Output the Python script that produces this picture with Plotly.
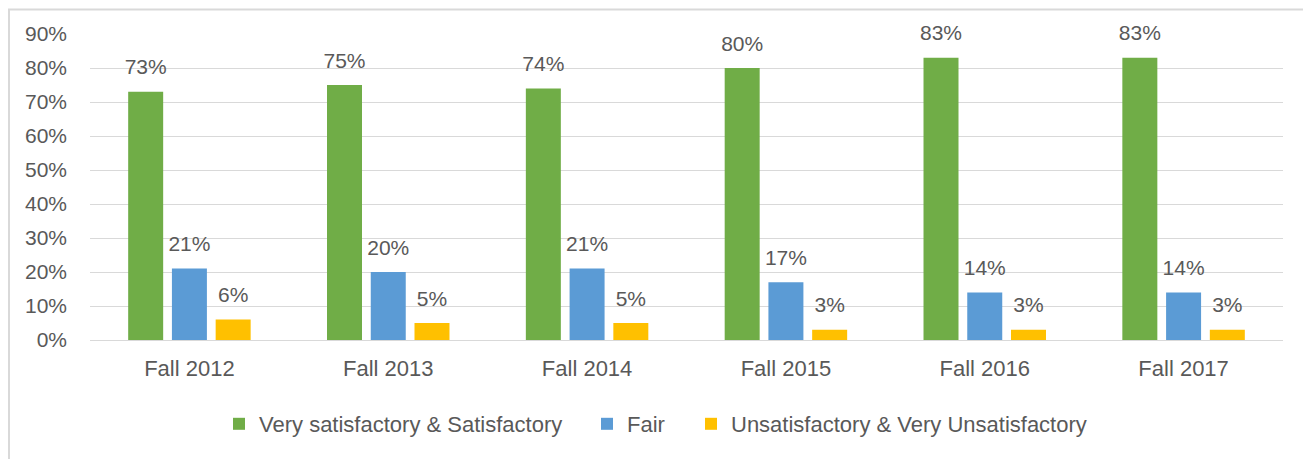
import plotly.graph_objects as go

categories = ["Fall 2012", "Fall 2013", "Fall 2014", "Fall 2015", "Fall 2016", "Fall 2017"]
satisfactory = [0.73, 0.75, 0.74, 0.80, 0.83, 0.83]
fair = [0.21, 0.20, 0.21, 0.17, 0.14, 0.14]
unsatisfactory = [0.06, 0.05, 0.05, 0.03, 0.03, 0.03]
series_names = ["Very satisfactory & Satisfactory", "Fair", "Unsatisfactory & Very Unsatisfactory"]
series_values = [satisfactory, fair, unsatisfactory]
colors = ["#70AD47", "#5B9BD5", "#FFC000"]
y_ticks = [0, 0.1, 0.2, 0.3, 0.4, 0.5, 0.6, 0.7, 0.8, 0.9]
y_tick_labels = ["0%", "10%", "20%", "30%", "40%", "50%", "60%", "70%", "80%", "90%"]

FONT = "Liberation Sans, Arial, sans-serif"
TXT = "#595959"
legends = ["legend", "legend2", "legend3"]

fig = go.Figure()
for name, vals, col, lg in zip(series_names, series_values, colors, legends):
    fig.add_trace(go.Bar(
        x=categories, y=vals, name=name, marker_color=col,
        marker_line_width=0, legend=lg, hoverinfo="skip",
    ))
for name, vals in zip(series_names, series_values):
    fig.add_trace(go.Scatter(
        x=categories, y=vals, mode="markers+text",
        text=[f"{round(v*100)}%" for v in vals],
        textposition="top center",
        textfont=dict(family=FONT, size=21, color=TXT),
        marker=dict(size=18, opacity=0),
        showlegend=False, hoverinfo="skip", cliponaxis=False,
    ))

# page body has an 8px margin; figure coordinates = image coordinates - 8
OFF = 8
W, H = 1311 - OFF, 459 - OFF
ml = 90 - OFF
mt = 34 - OFF
mr = W - (1283 - OFF)
mb = H - (340 - OFF)
pw = W - ml - mr
ph = H - mt - mb

def px2x(p):
    return (p - OFF - ml) / pw

def px2y(p):
    return (H - mb - (p - OFF)) / ph

leg_common = dict(orientation="h", yanchor="middle", xanchor="left",
                  font=dict(family=FONT, size=22, color=TXT),
                  bgcolor="rgba(0,0,0,0)", borderwidth=0)

fig.update_layout(
    width=W, height=H,
    margin=dict(l=ml, r=mr, t=mt, b=mb),
    paper_bgcolor="white", plot_bgcolor="white",
    barmode="group", bargap=0.34, bargroupgap=0.2,
    scattermode="group", scattergap=0.34,
    font=dict(family=FONT, color=TXT),
    hovermode=False,
    legend=dict(x=px2x(219), y=px2y(424), **leg_common),
    legend2=dict(x=px2x(587), y=px2y(424), **leg_common),
    legend3=dict(x=px2x(691), y=px2y(424), **leg_common),
    xaxis=dict(showgrid=False, showline=False, ticks="",
               tickfont=dict(family=FONT, size=22, color=TXT),
               ticklabelstandoff=13),
    yaxis=dict(range=[0, 0.9], tickvals=y_ticks, ticktext=y_tick_labels,
               showgrid=True, gridcolor="#D9D9D9", gridwidth=1,
               zeroline=True, zerolinecolor="#D9D9D9", zerolinewidth=1,
               showline=False, ticks="",
               tickfont=dict(family=FONT, size=21, color=TXT),
               ticklabelstandoff=22),
    shapes=[dict(type="rect", xref="paper", yref="paper",
                 x0=px2x(9), x1=px2x(1309), y0=px2y(470), y1=px2y(9.5),
                 line=dict(color="#D9D9D9", width=2), layer="below")],
)

fig.write_html("out.html")
